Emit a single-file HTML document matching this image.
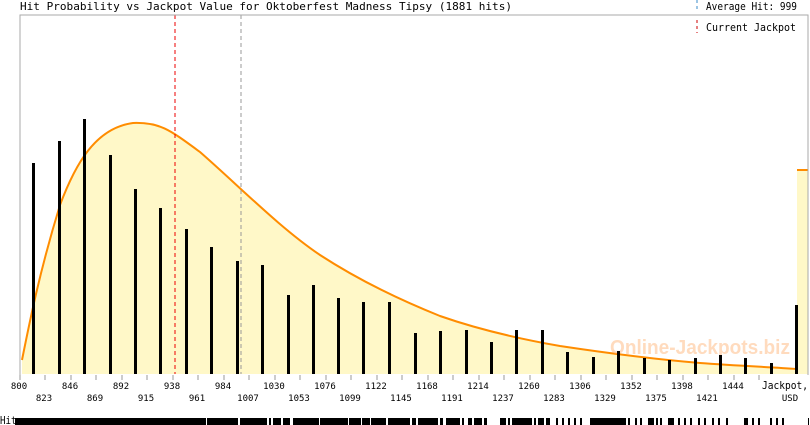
<!DOCTYPE html>
<html><head><meta charset="utf-8"><style>
html,body{margin:0;padding:0;background:#fff;}
svg{display:block;font-family:"DejaVu Sans Mono","Liberation Mono",monospace;}
</style></head><body>
<svg width="810" height="425" viewBox="0 0 810 425" xmlns="http://www.w3.org/2000/svg">
<rect x="0" y="0" width="810" height="425" fill="#fff"/>
<text x="20" y="10" font-size="11" fill="#000" textLength="492" lengthAdjust="spacingAndGlyphs">Hit Probability vs Jackpot Value for Oktoberfest Madness Tipsy (1881 hits)</text>
<line x1="697" y1="0" x2="697" y2="11" stroke="#3a8bc8" stroke-dasharray="3,3"/>
<text x="706" y="10" font-size="11" textLength="91" lengthAdjust="spacingAndGlyphs">Average Hit: 999</text>
<line x1="697" y1="20" x2="697" y2="33" stroke="#c00" stroke-dasharray="3,3"/>
<text x="706" y="31" font-size="11" textLength="90" lengthAdjust="spacingAndGlyphs">Current Jackpot</text>
<path d="M22,374 L22,360 C30,320 40,270 60,205 C75,165 95,128 133,123 C160,122 170,130 200,152 C240,187 280,228 320,255 C360,281 400,300 440,316 C480,330 520,339 560,346 C600,352 650,359 700,363 C740,366 770,367 797,369 L797,170 L808,170 L808,374 Z" fill="#fff8c8"/>
<path d="M22,360 C30,320 40,270 60,205 C75,165 95,128 133,123 C160,122 170,130 200,152 C240,187 280,228 320,255 C360,281 400,300 440,316 C480,330 520,339 560,346 C600,352 650,359 700,363 C740,366 770,367 797,369" fill="none" stroke="#ff8c00" stroke-width="2"/>
<line x1="797" y1="170" x2="808" y2="170" stroke="#ff8c00" stroke-width="2"/>
<text x="610" y="354" font-size="20" font-weight="bold" font-family="Liberation Sans,sans-serif" fill="#ffb070" opacity="0.45" textLength="180" lengthAdjust="spacingAndGlyphs">Online-Jackpots.biz</text>
<g fill="#000">
<rect x="32" y="163" width="3" height="211"/><rect x="58" y="141" width="3" height="233"/><rect x="83" y="119" width="3" height="255"/><rect x="109" y="155" width="3" height="219"/><rect x="134" y="189" width="3" height="185"/><rect x="159" y="208" width="3" height="166"/><rect x="185" y="229" width="3" height="145"/><rect x="210" y="247" width="3" height="127"/><rect x="236" y="261" width="3" height="113"/><rect x="261" y="265" width="3" height="109"/><rect x="287" y="295" width="3" height="79"/><rect x="312" y="285" width="3" height="89"/><rect x="337" y="298" width="3" height="76"/><rect x="362" y="302" width="3" height="72"/><rect x="388" y="302" width="3" height="72"/><rect x="414" y="333" width="3" height="41"/><rect x="439" y="331" width="3" height="43"/><rect x="465" y="330" width="3" height="44"/><rect x="490" y="342" width="3" height="32"/><rect x="515" y="330" width="3" height="44"/><rect x="541" y="330" width="3" height="44"/><rect x="566" y="352" width="3" height="22"/><rect x="592" y="357" width="3" height="17"/><rect x="617" y="351" width="3" height="23"/><rect x="643" y="358" width="3" height="16"/><rect x="668" y="360" width="3" height="14"/><rect x="694" y="358" width="3" height="16"/><rect x="719" y="355" width="3" height="19"/><rect x="744" y="358" width="3" height="16"/><rect x="770" y="363" width="3" height="11"/><rect x="795" y="305" width="3" height="69"/>
</g>
<line x1="175" y1="15" x2="175" y2="374" stroke="#e00" stroke-dasharray="4,3"/>
<line x1="241" y1="15" x2="241" y2="374" stroke="#999" stroke-dasharray="4,3"/>
<polyline points="20,375 20,15 808,15 808,375" fill="none" stroke="#aaa"/>
<g stroke="#999">
<line x1="20" y1="375" x2="20" y2="380"/><line x1="45" y1="375" x2="45" y2="380"/><line x1="71" y1="375" x2="71" y2="380"/><line x1="96" y1="375" x2="96" y2="380"/><line x1="122" y1="375" x2="122" y2="380"/><line x1="147" y1="375" x2="147" y2="380"/><line x1="173" y1="375" x2="173" y2="380"/><line x1="198" y1="375" x2="198" y2="380"/><line x1="224" y1="375" x2="224" y2="380"/><line x1="249" y1="375" x2="249" y2="380"/><line x1="275" y1="375" x2="275" y2="380"/><line x1="300" y1="375" x2="300" y2="380"/><line x1="326" y1="375" x2="326" y2="380"/><line x1="351" y1="375" x2="351" y2="380"/><line x1="377" y1="375" x2="377" y2="380"/><line x1="402" y1="375" x2="402" y2="380"/><line x1="428" y1="375" x2="428" y2="380"/><line x1="453" y1="375" x2="453" y2="380"/><line x1="479" y1="375" x2="479" y2="380"/><line x1="504" y1="375" x2="504" y2="380"/><line x1="530" y1="375" x2="530" y2="380"/><line x1="555" y1="375" x2="555" y2="380"/><line x1="581" y1="375" x2="581" y2="380"/><line x1="606" y1="375" x2="606" y2="380"/><line x1="632" y1="375" x2="632" y2="380"/><line x1="657" y1="375" x2="657" y2="380"/><line x1="683" y1="375" x2="683" y2="380"/><line x1="708" y1="375" x2="708" y2="380"/><line x1="734" y1="375" x2="734" y2="380"/><line x1="759" y1="375" x2="759" y2="380"/>
</g>
<g font-size="9" text-anchor="middle" fill="#000">
<text x="19" y="389">800</text><text x="70" y="389">846</text><text x="121" y="389">892</text><text x="172" y="389">938</text><text x="223" y="389">984</text><text x="274" y="389">1030</text><text x="325" y="389">1076</text><text x="376" y="389">1122</text><text x="427" y="389">1168</text><text x="478" y="389">1214</text><text x="529" y="389">1260</text><text x="580" y="389">1306</text><text x="631" y="389">1352</text><text x="682" y="389">1398</text><text x="733" y="389">1444</text>
<text x="44" y="401">823</text><text x="95" y="401">869</text><text x="146" y="401">915</text><text x="197" y="401">961</text><text x="248" y="401">1007</text><text x="299" y="401">1053</text><text x="350" y="401">1099</text><text x="401" y="401">1145</text><text x="452" y="401">1191</text><text x="503" y="401">1237</text><text x="554" y="401">1283</text><text x="605" y="401">1329</text><text x="656" y="401">1375</text><text x="707" y="401">1421</text><text x="790" y="401">USD</text>
</g>
<text x="762" y="389" font-size="11" textLength="46" lengthAdjust="spacingAndGlyphs">Jackpot,</text>
<text x="0" y="424" font-size="11" textLength="22" lengthAdjust="spacingAndGlyphs">Hits</text>
<g fill="#000">
<rect x="15" y="418" width="191" height="7"/><rect x="207" y="418" width="31" height="7"/><rect x="240" y="418" width="27" height="7"/><rect x="269" y="418" width="2" height="7"/><rect x="273" y="418" width="8" height="7"/><rect x="283" y="418" width="7" height="7"/><rect x="293" y="418" width="26" height="7"/><rect x="320" y="418" width="28" height="7"/><rect x="349" y="418" width="12" height="7"/><rect x="362" y="418" width="8" height="7"/><rect x="371" y="418" width="15" height="7"/><rect x="388" y="418" width="22" height="7"/><rect x="412" y="418" width="4" height="7"/><rect x="418" y="418" width="20" height="7"/><rect x="440" y="418" width="3" height="7"/><rect x="446" y="418" width="14" height="7"/><rect x="462" y="418" width="2" height="7"/><rect x="468" y="418" width="4" height="7"/><rect x="474" y="418" width="8" height="7"/><rect x="484" y="418" width="3" height="7"/><rect x="500" y="418" width="6" height="7"/><rect x="508" y="418" width="2" height="7"/><rect x="512" y="418" width="20" height="7"/><rect x="534" y="418" width="2" height="7"/><rect x="538" y="418" width="6" height="7"/><rect x="546" y="418" width="4" height="7"/><rect x="556" y="418" width="2" height="7"/><rect x="562" y="418" width="2" height="7"/><rect x="568" y="418" width="2" height="7"/><rect x="574" y="418" width="2" height="7"/><rect x="580" y="418" width="2" height="7"/><rect x="590" y="418" width="36" height="7"/><rect x="628" y="418" width="2" height="7"/><rect x="635" y="418" width="2" height="7"/><rect x="640" y="418" width="2" height="7"/><rect x="648" y="418" width="6" height="7"/><rect x="656" y="418" width="2" height="7"/><rect x="660" y="418" width="2" height="7"/><rect x="668" y="418" width="6" height="7"/><rect x="678" y="418" width="2" height="7"/><rect x="684" y="418" width="2" height="7"/><rect x="690" y="418" width="2" height="7"/><rect x="698" y="418" width="2" height="7"/><rect x="704" y="418" width="2" height="7"/><rect x="712" y="418" width="2" height="7"/><rect x="718" y="418" width="2" height="7"/><rect x="726" y="418" width="2" height="7"/><rect x="744" y="418" width="4" height="7"/><rect x="752" y="418" width="2" height="7"/><rect x="758" y="418" width="2" height="7"/><rect x="770" y="418" width="2" height="7"/><rect x="776" y="418" width="2" height="7"/><rect x="782" y="418" width="2" height="7"/><rect x="808" y="418" width="1" height="7"/>
</g>
</svg>
</body></html>
